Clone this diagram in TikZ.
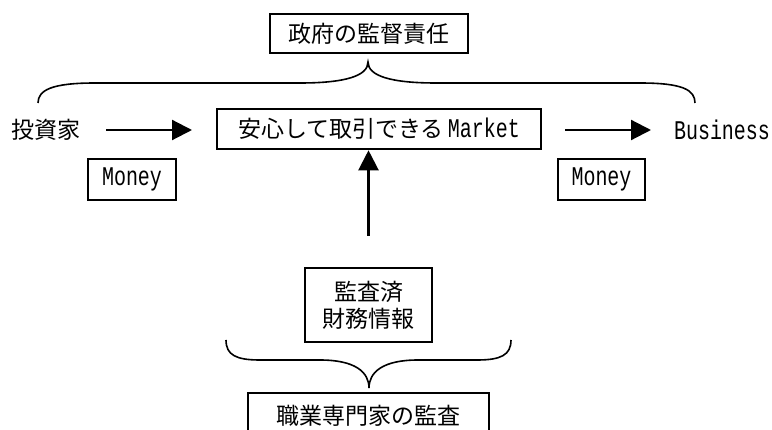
\documentclass[tikz,border=0pt]{standalone}
\usepackage{fontspec}
\setmainfont{Noto Sans CJK JP}
\newfontfamily\cjk{Noto Sans CJK JP}
\newfontfamily\lat[FakeStretch=0.74]{Liberation Mono}
\usetikzlibrary{arrows.meta}
\begin{document}
\begin{tikzpicture}[x=1pt,y=-1pt,
  txt/.style={inner sep=0pt,font=\fontsize{23}{27}\selectfont\cjk},
  latf/.style={font=\fontsize{27}{30}\selectfont\lat},
  box/.style={draw,line width=2.6pt,inner sep=0pt,font=\fontsize{23}{27}\selectfont\cjk,align=center},
  arr/.style={line width=2.2pt,-{Triangle[length=20pt,width=20pt]}},
  brace/.style={line width=1.6pt}]
\useasboundingbox (0,0) rectangle (772,430);
\fill[white] (0,0) rectangle (772,430);
\node[box,minimum width=198pt,minimum height=39pt] (gov) at (369,33.5) {政府の監督責任};
\node[txt] (inv) at (46,130) {投資家};
\node[txt,latf] (bus) at (722,130) {Business};
\node[box,minimum width=324pt,minimum height=40pt] (mkt) at (379,129) {安心して取引できる\hspace{4pt}{\fontsize{27}{30}\selectfont\lat Market}};
\node[box,latf,minimum width=88pt,minimum height=41pt] (mL) at (132,179.5) {Money};
\node[box,latf,minimum width=87pt,minimum height=41pt] (mR) at (601.5,179.5) {Money};
\node[box,minimum width=127pt,minimum height=74pt] (aud) at (368.5,305) {監査済\\財務情報};
\node[box,minimum width=241pt,minimum height=46pt] (pro) at (368.5,416) {職業専門家の監査};
\coordinate (k1) at (106,130);
\coordinate (k2) at (565,130);
\coordinate (h1) at (192,130);
\coordinate (h2) at (651,130);
\draw[arr] (k1) -- (h1);
\draw[arr] (k2) -- (h2);
\draw[arr] ([yshift=31pt]aud.north) -- (aud.north |- mkt.south);
% top brace
\draw[brace] (38,103) .. controls (38,90) and (52,83) .. (95,83) -- (300,83) .. controls (345,83) and (368,76) .. (368,62)
  .. controls (368,76) and (391,83) .. (436,83) -- (640,83) .. controls (683,83) and (695,90) .. (695,103);
% bottom brace
\draw[brace] (226,340) .. controls (226,355) and (236,360) .. (260,360) -- (320,360) .. controls (355,360) and (369,372) .. (369,388)
  .. controls (369,372) and (383,360) .. (418,360) -- (477,360) .. controls (501,360) and (511,355) .. (511,340);
\end{tikzpicture}
\end{document}
